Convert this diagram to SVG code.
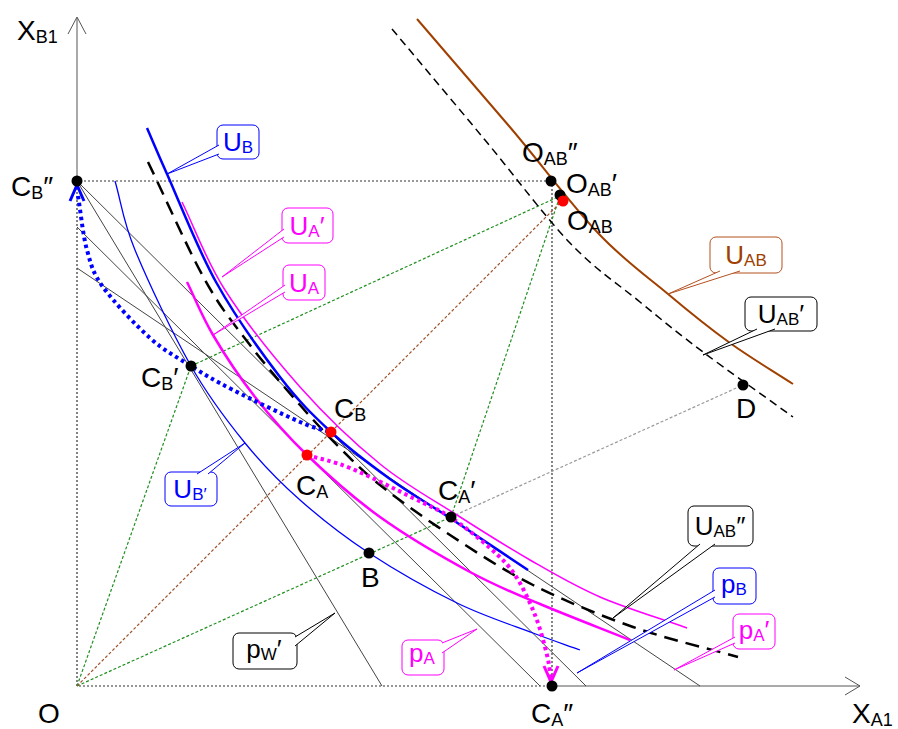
<svg xmlns="http://www.w3.org/2000/svg" width="898" height="729" viewBox="0 0 898 729">
<style>
.ax{stroke:#555;stroke-width:1;fill:none}
.gl{stroke:#444;stroke-width:1;fill:none}
.dk{stroke:#333;stroke-width:1.2;stroke-dasharray:2 2;fill:none}
.gr{stroke:#1f8f1f;stroke-width:1.2;stroke-dasharray:3 2;fill:none}
.bd{stroke:#a0522d;stroke-width:1.2;stroke-dasharray:3 2;fill:none}
.lg{stroke:#9a9a9a;stroke-width:1.2;stroke-dasharray:3 2;fill:none}
.lbl{font-family:"Liberation Sans",Arial,sans-serif;font-size:28px;fill:#000}
.cl{font-family:"Liberation Sans",Arial,sans-serif;font-size:26px;text-anchor:middle}
.bx{fill:#fff;stroke-width:1}
.dot{fill:#000}
.red{fill:#ff0000}
</style>
<rect width="898" height="729" fill="#fff"/>
<g id="connectors">
  <path class="ax" d="M77,181 V18 M68,34 L77,17 L86,34"/>
  <path class="ax" d="M552,686 H860 M845,677 L860,686 L845,695"/>
  <path class="dk" d="M77,686 V181 H551 M552,181 V686 H77"/>
  <path class="gr" d="M77,686 L191,366 L560,196 M77,686 L451,517 L560,196"/>
  <path class="bd" d="M77,686 L563,200"/>
  <path class="lg" d="M451,517 L743,385"/>
  <path class="gl" d="M77,181 L382,686 M77,181 L586,686 M77,227 L540,686 M77,268 L700,686"/>
  <path fill="none" stroke="#0000ff" stroke-width="1.3" d="M115,181 C121.7,204 122.3,219.2 135,250 S172.7,333.8 191,366 S226.8,420.7 245,443 S279.3,481.7 300,500 S342.8,535.8 369,553 S429.7,589.7 457,603 S512.5,625.2 533,633 S564.3,644.3 580,650"/>
  <path fill="none" stroke="#ff00ff" stroke-width="2.5" d="M187,282 C195.7,299.7 201.7,315.8 213,335 S239.3,377 255,397 S286.2,435 307,455 S352.8,497.5 380,517 S443.3,557.5 470,572 S513.3,592.7 540,604 S600,628 630,640"/>
  <path fill="none" stroke="#ff00ff" stroke-width="1.5" d="M182,202 C196.3,231.3 205.3,259.2 225,290 S274.2,358 300,387 S353.8,442.7 380,464 S432,499 457,515 S506.2,546.3 530,560 S573.8,585.7 600,597 S658,617.7 687,628"/>
  <path fill="none" stroke="#000" stroke-width="2.5" stroke-dasharray="14 8" d="M148,162 C167,201.3 188,249.5 205,280 S234.2,324.2 250,345 S285,387.8 300,405 S326.7,434.7 340,448 S361.7,470.5 380,485 S424.5,518.3 450,535 S502.5,569.7 533,585 S598.8,615 633,627 S703,647 738,657"/>
  <path fill="none" stroke="#0000ff" stroke-width="2.5" d="M147,128 C153.7,143.3 155.5,148.3 167,174 S197.2,248.2 216,282 S260.8,352 280,377 S312.7,415 331,432 S370.2,464.7 390,479 S427,502.8 450,518 S502,552.7 528,570"/>
  <path fill="none" stroke="#a04000" stroke-width="2" d="M417,19 C447.7,54.7 478.5,90.3 509,126 S571.5,205 598,233 S646.3,275.7 668,294 S709.2,328 730,343 S772,370.3 793,384"/>
  <path fill="none" stroke="#000" stroke-width="1.5" stroke-dasharray="8 5" d="M392,29 C423,66 455.3,104.3 485,140 S544.2,216 570,243 S617.8,283.8 640,302 S677.5,332.8 703,352 S763,395.3 793,417"/>
  <path fill="none" stroke="#0000ff" stroke-width="4" stroke-dasharray="3.5 3.5" d="M78,196 C81,214 82.8,234.8 87,250 S92.5,272.3 103,287 S135.3,324.8 150,338 S177.2,357.3 191,366 S214.8,380.7 233,390 S283.8,415 300,422 S320,428.7 330,432"/>
  <path fill="none" stroke="#0000ff" stroke-width="3" d="M70,201 L77,185 L84,201"/>
  <path fill="none" stroke="#ff00ff" stroke-width="4" stroke-dasharray="3.5 3.5" d="M307,455 C321.3,459.3 332.3,460.8 350,468 S396.3,489.8 413,498 S437.2,508.7 450,517 S479.2,538.3 490,548 S507.5,563.8 515,575 S529.7,601.7 535,615 S544.3,644.2 547,655 S549.7,671.7 551,678"/>
  <path fill="none" stroke="#ff00ff" stroke-width="3" d="M544,666 L551,682 L558,666"/>
</g>
<g id="node-CB2"><circle class="dot" cx="77" cy="181" r="5.5"/><text class="lbl" x="11" y="196">C<tspan font-size="18" dy="3">B</tspan><tspan dy="-3">″</tspan></text></g>
<g id="node-OAB2"><circle class="dot" cx="551" cy="181" r="5.5"/><text class="lbl" x="522" y="162">O<tspan font-size="18" dy="3">AB</tspan><tspan dy="-3">″</tspan></text></g>
<g id="node-OAB1"><circle class="dot" cx="560" cy="195" r="5.5"/><text class="lbl" x="566" y="193">O<tspan font-size="18" dy="3">AB</tspan><tspan dy="-3">′</tspan></text></g>
<g id="node-OAB"><circle class="red" cx="563" cy="201" r="5.5"/><text class="lbl" x="567" y="230">O<tspan font-size="18" dy="3">AB</tspan></text></g>
<g id="node-CB1"><circle class="dot" cx="191" cy="366" r="5.5"/><text class="lbl" x="141" y="387">C<tspan font-size="18" dy="3">B</tspan><tspan dy="-3">′</tspan></text></g>
<g id="node-CB"><circle class="red" cx="331" cy="432" r="5.5"/><text class="lbl" x="334" y="418">C<tspan font-size="18" dy="3">B</tspan></text></g>
<g id="node-CA"><circle class="red" cx="307" cy="455" r="5.5"/><text class="lbl" x="296" y="495">C<tspan font-size="18" dy="3">A</tspan></text></g>
<g id="node-CA1"><circle class="dot" cx="451" cy="517" r="5.5"/><text class="lbl" x="438" y="500">C<tspan font-size="18" dy="3">A</tspan><tspan dy="-3">′</tspan></text></g>
<g id="node-B"><circle class="dot" cx="369" cy="553" r="5.5"/><text class="lbl" x="361" y="587">B</text></g>
<g id="node-CA2"><circle class="dot" cx="552" cy="686" r="5.5"/><text class="lbl" x="531" y="723">C<tspan font-size="18" dy="3">A</tspan><tspan dy="-3">″</tspan></text></g>
<g id="node-D"><circle class="dot" cx="743" cy="385" r="5.5"/><text class="lbl" x="736" y="418">D</text></g>
<g id="node-O"><text class="lbl" x="38" y="723">O</text></g>
<g id="axis-XB1"><text class="lbl" x="17" y="40">X<tspan font-size="18" dy="3">B1</tspan></text></g>
<g id="axis-XA1"><text class="lbl" x="852" y="723">X<tspan font-size="18" dy="3">A1</tspan></text></g>
<g id="label-UB" stroke="#0000ff">
  <rect class="bx" x="217" y="125" width="42" height="34" rx="6"/>
  <path class="bx" d="M219,145 L167,174 L219,154"/>
  <text class="cl" x="238" y="151" fill="#0000ff" stroke="none">U<tspan font-size="17" dy="2">B</tspan></text>
</g>
<g id="label-UA1" stroke="#ff00ff">
  <rect class="bx" x="282" y="208" width="51" height="35" rx="6"/>
  <path class="bx" d="M284,229 L222,277 L284,237"/>
  <text class="cl" x="307" y="235" fill="#ff00ff" stroke="none">U<tspan font-size="17" dy="2">A</tspan><tspan dy="-2">′</tspan></text>
</g>
<g id="label-UA" stroke="#ff00ff">
  <rect class="bx" x="283" y="265" width="42" height="35" rx="6"/>
  <path class="bx" d="M285,285 L213,335 L285,292"/>
  <text class="cl" x="304" y="292" fill="#ff00ff" stroke="none">U<tspan font-size="17" dy="2">A</tspan></text>
</g>
<g id="label-UB1" stroke="#0000ff">
  <rect class="bx" x="165" y="472" width="52" height="34" rx="6"/>
  <path class="bx" d="M197,474 L245,443 L208,474"/>
  <text class="cl" x="190" y="498" fill="#0000ff" stroke="none">U<tspan font-size="17" dy="2">B′</tspan></text>
</g>
<g id="label-pW1" stroke="#000">
  <rect class="bx" x="233" y="633" width="64" height="36" rx="6"/>
  <path class="bx" d="M295,637 L335,613 L295,646"/>
  <text class="cl" x="264" y="658" fill="#000" stroke="none">p<tspan font-size="17" dy="2">W</tspan><tspan dy="-2">′</tspan></text>
</g>
<g id="label-pA" stroke="#ff00ff">
  <rect class="bx" x="402" y="640" width="42" height="35" rx="6"/>
  <path class="bx" d="M442,643 L477,629 L442,653"/>
  <text class="cl" x="422" y="662" fill="#ff00ff" stroke="none">p<tspan font-size="17" dy="2">A</tspan></text>
</g>
<g id="label-UAB" stroke="#b4501e">
  <rect class="bx" x="710" y="237" width="72" height="36" rx="6"/>
  <path class="bx" d="M720,271 L668,294 L740,271"/>
  <text class="cl" x="746" y="264" fill="#a04000" stroke="none">U<tspan font-size="17" dy="2">AB</tspan></text>
</g>
<g id="label-UAB1" stroke="#000">
  <rect class="bx" x="745" y="297" width="72" height="34" rx="6"/>
  <path class="bx" d="M757,329 L703,355 L775,329"/>
  <text class="cl" x="781" y="323" fill="#000" stroke="none">U<tspan font-size="17" dy="2">AB</tspan><tspan dy="-2">′</tspan></text>
</g>
<g id="label-UAB2" stroke="#000">
  <rect class="bx" x="688" y="506" width="65" height="40" rx="6"/>
  <path class="bx" d="M700,544 L613,618 L715,544"/>
  <text class="cl" x="720" y="535" fill="#000" stroke="none">U<tspan font-size="17" dy="2">AB</tspan><tspan dy="-2">″</tspan></text>
</g>
<g id="label-pB" stroke="#0000ff">
  <rect class="bx" x="713" y="568" width="43" height="36" rx="6"/>
  <path class="bx" d="M715,590 L577,673 L715,597"/>
  <text class="cl" x="734" y="593" fill="#0000ff" stroke="none">p<tspan font-size="17" dy="2">B</tspan></text>
</g>
<g id="label-pA1" stroke="#ff00ff">
  <rect class="bx" x="733" y="614" width="42" height="35" rx="6"/>
  <path class="bx" d="M735,637 L674,670 L735,643"/>
  <text class="cl" x="754" y="639" fill="#ff00ff" stroke="none">p<tspan font-size="17" dy="2">A</tspan><tspan dy="-2">′</tspan></text>
</g>
</svg>
